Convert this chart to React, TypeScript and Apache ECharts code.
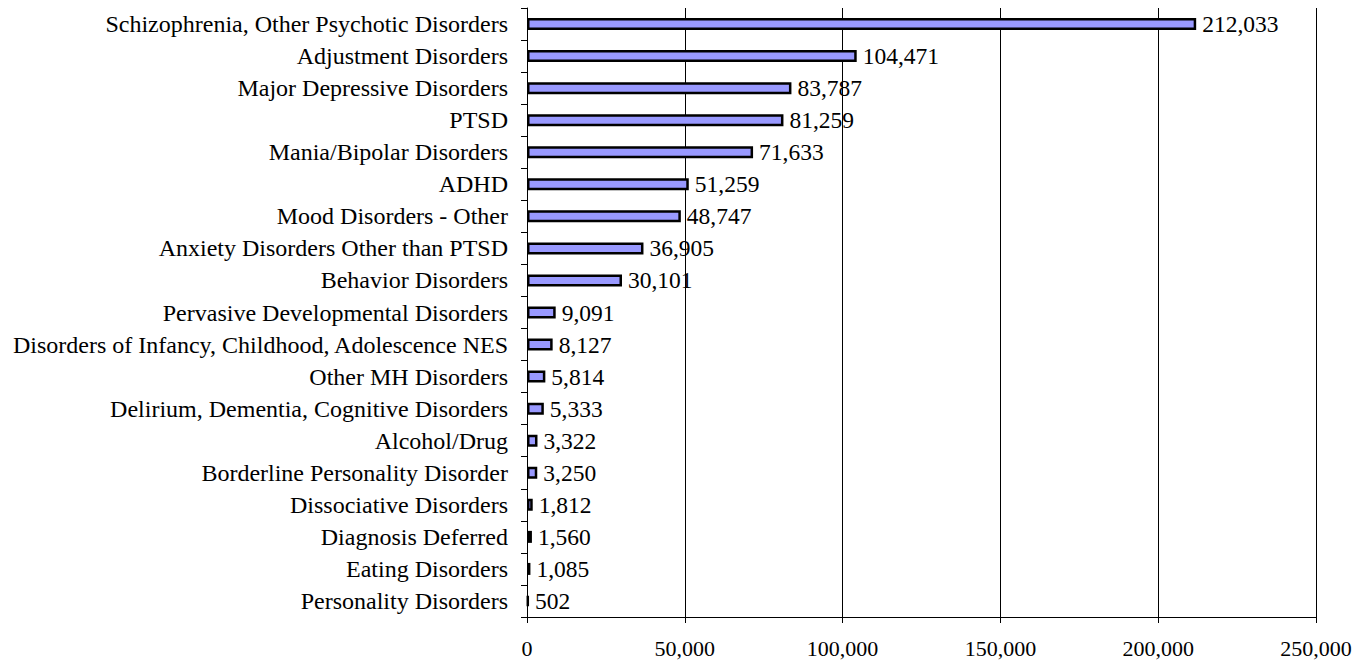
import React, { useEffect, useRef } from "react";
import * as echarts from "echarts";

const categories = [
  "Schizophrenia, Other Psychotic Disorders",
  "Adjustment Disorders",
  "Major Depressive Disorders",
  "PTSD",
  "Mania/Bipolar Disorders",
  "ADHD",
  "Mood Disorders - Other",
  "Anxiety Disorders Other than PTSD",
  "Behavior Disorders",
  "Pervasive Developmental Disorders",
  "Disorders of Infancy, Childhood, Adolescence NES",
  "Other MH Disorders",
  "Delirium, Dementia, Cognitive Disorders",
  "Alcohol/Drug",
  "Borderline Personality Disorder",
  "Dissociative Disorders",
  "Diagnosis Deferred",
  "Eating Disorders",
  "Personality Disorders",
];

const values = [
  212033, 104471, 83787, 81259, 71633, 51259, 48747, 36905, 30101, 9091, 8127,
  5814, 5333, 3322, 3250, 1812, 1560, 1085, 502,
];

const fmt = (v: number) => v.toLocaleString("en-US");

export default function App() {
  const ref = useRef<HTMLDivElement>(null);
  useEffect(() => {
    if (!ref.current) return;
    document.body.style.margin = "0";
    document.body.style.overflow = "hidden";
    const chart = echarts.init(ref.current, undefined, { renderer: "svg" });
    const font = "'Liberation Serif', 'Times New Roman', serif";
    chart.setOption({
      animation: false,
      textStyle: { fontFamily: font },
      grid: {
        left: 527,
        right: 52,
        top: 8,
        bottom: 43,
        containLabel: false,
        outerBoundsMode: "none",
      },
      xAxis: {
        type: "value",
        min: 0,
        max: 250000,
        interval: 50000,
        axisLine: { show: true, lineStyle: { color: "#000", width: 1 } },
        axisTick: { show: true, length: 6, lineStyle: { color: "#000" } },
        splitLine: { show: true, lineStyle: { color: "#000", width: 1 } },
        axisLabel: {
          formatter: (v: number) => fmt(v),
          color: "#000",
          fontSize: 22,
          lineHeight: 20,
          fontFamily: font,
          margin: 21,
        },
      },
      yAxis: {
        type: "category",
        data: categories,
        inverse: true,
        axisLine: { show: true, lineStyle: { color: "#000", width: 1 } },
        axisTick: { show: true, length: 6, inside: false, lineStyle: { color: "#000" } },
        axisLabel: {
          color: "#000",
          fontSize: 24,
          fontFamily: font,
          margin: 19,
        },
      },
      series: [
        {
          type: "bar",
          data: values,
          barWidth: 12,
          itemStyle: { color: "#9999FF", borderColor: "#000", borderWidth: 2.5 },
          label: {
            show: true,
            position: "right",
            distance: 6,
            color: "#000",
            fontSize: 23.5,
            fontFamily: font,
            formatter: (p: any) => fmt(p.value),
          },
        },
      ],
    });
    return () => chart.dispose();
  }, []);
  return <div ref={ref} style={{ width: 1368, height: 660 }} />;
}
